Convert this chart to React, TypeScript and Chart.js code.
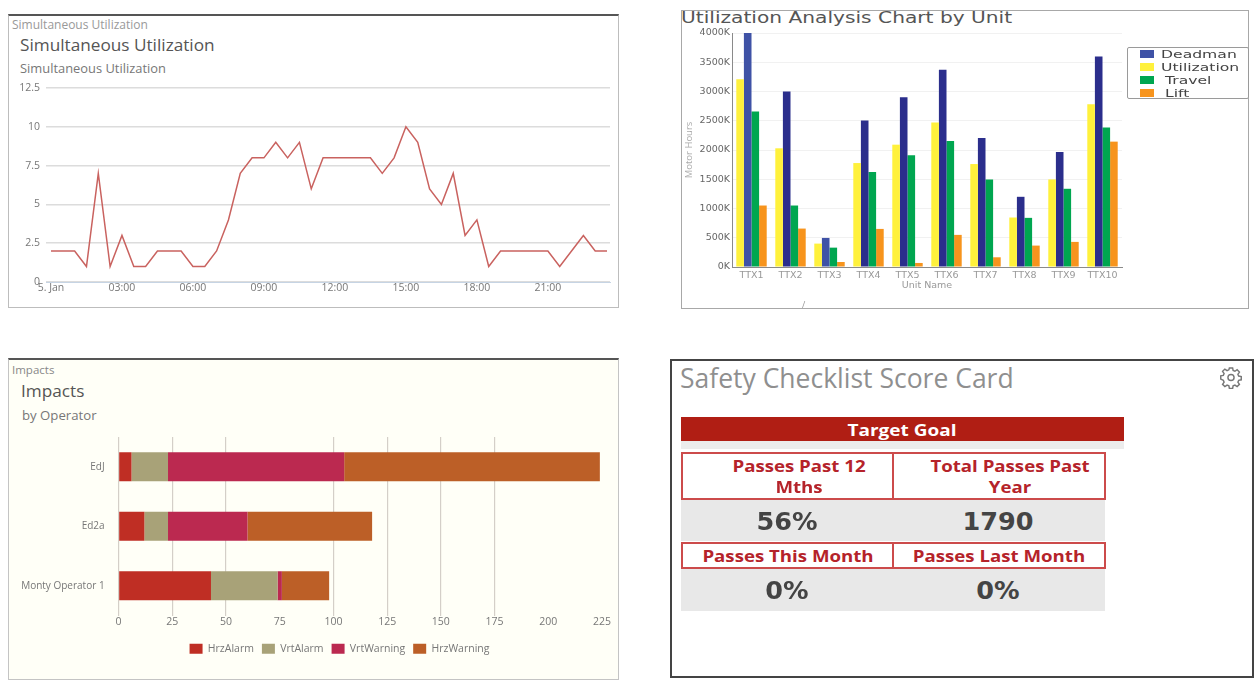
import React, { useEffect, useRef } from "react";
import { Chart, registerables } from "chart.js";

Chart.register(...registerables);

const hours = ["5. Jan","00:30","01:00","01:30","02:00","02:30","03:00","03:30","04:00","04:30","05:00","05:30","06:00","06:30","07:00","07:30","08:00","08:30","09:00","09:30","10:00","10:30","11:00","11:30","12:00","12:30","13:00","13:30","14:00","14:30","15:00","15:30","16:00","16:30","17:00","17:30","18:00","18:30","19:00","19:30","20:00","20:30","21:00","21:30","22:00","22:30","23:00","23:30"];
const simultaneous = [2,2,2,1,7,1,3,1,1,2,2,2,1,1,2,4,7,8,8,9,8,9,6,8,8,8,8,8,7,8,10,9,6,5,7,3,4,1,2,2,2,2,2,1,2,3,2,2];

const units = ["TTX1","TTX2","TTX3","TTX4","TTX5","TTX6","TTX7","TTX8","TTX9","TTX10"];
const utilization = [3211,2029,400,1777,2091,2469,1760,846,1497,2783];
const deadman = [4000,3000,497,2503,2903,3371,2206,1200,1966,3600];
const travel = [2657,1051,331,1623,1909,2154,1497,840,1337,2383];
const lift = [1051,657,86,651,69,549,166,366,429,2143];
const deadmanColors = ["#3f52a6","#2b2e8c","#3f52a6","#2b2e8c","#2b2e8c","#2b2e8c","#2b2e8c","#2b2e8c","#2b2e8c","#2b2e8c"];
const unitLegend = [
  { name: "Deadman", color: "#3f52a6" },
  { name: "Utilization", color: "#fff13c" },
  { name: "Travel", color: "#00a650" },
  { name: "Lift", color: "#f7941d" },
];

const operators = ["EdJ","Ed2a","Monty Operator 1"];
const hrzAlarm = [6,12,43];
const vrtAlarm = [17,11,31];
const vrtWarning = [82,37,2];
const hrzWarning = [119,58,22];

const scoreHeadersTop = ["Passes Past 12 Mths","Total Passes Past Year"];
const scoreValuesTop = ["56%","1790"];
const scoreHeadersBottom = ["Passes This Month","Passes Last Month"];
const scoreValuesBottom = ["0%","0%"];

const SANS = "'Open Sans', sans-serif";

function Box(p: any) {
  const { x, y, w, h, style, children } = p;
  return <div style={{ position: "absolute", left: x, top: y, width: w, height: h, boxSizing: "border-box", ...style }}>{children}</div>;
}

function Label(p: any) {
  const { x, y, size, color, text, font, weight, center, sx } = p;
  return (
    <div style={{
      position: "absolute", left: x, top: y, whiteSpace: "nowrap", lineHeight: 1,
      fontFamily: font || SANS, fontSize: size, color, fontWeight: weight || 400,
      transform: `translate(${center ? "-50%" : "0"},-50%) scaleX(${sx || 1})`,
      transformOrigin: center ? "center" : "left center",
    }}>{text}</div>
  );
}

function useChart(make: (c: HTMLCanvasElement) => Chart) {
  const ref = useRef<HTMLCanvasElement | null>(null);
  useEffect(() => {
    const c = make(ref.current as HTMLCanvasElement);
    return () => c.destroy();
  }, []);
  return ref;
}

function canvasStyle(x: number, y: number, w: number, h: number): React.CSSProperties {
  return { position: "absolute", left: x, top: y, width: w, height: h };
}

function LineCard() {
  const ref = useChart((c) => new Chart(c, {
    type: "line",
    data: {
      datasets: [{
        label: "Simultaneous Utilization",
        data: simultaneous.map((v, i) => ({ x: i, y: v })),
        borderColor: "#c9625f",
        borderWidth: 1.5,
        pointRadius: 0,
        tension: 0,
      }],
    },
    options: {
      responsive: false, animation: false,
      layout: { autoPadding: false, padding: { top: 74, left: 0, right: 9, bottom: 0 } },
      plugins: { legend: { display: false }, title: { display: false }, tooltip: { enabled: false } },
      scales: {
        x: {
          type: "linear", min: -0.42, max: 47.25,
          afterBuildTicks: (s: any) => { s.ticks = [0,6,12,18,24,30,36,42].map((value) => ({ value })); },
          afterFit: (s: any) => { s.height = 26; },
          grid: { display: false, drawTicks: false },
          border: { color: "#c6d4e4", width: 1 },
          ticks: { padding: 0, maxRotation: 0, autoSkip: false, color: "#777", font: { family: SANS, size: 10.5 },
            callback: (v: any) => hours[v] },
        },
        y: {
          min: 0, max: 12.5,
          afterFit: (s: any) => { s.width = 38; },
          border: { display: false },
          grid: { color: "#dcdcdc", lineWidth: 1.5, drawTicks: false },
          ticks: { stepSize: 2.5, padding: 6, color: "#777", font: { family: SANS, size: 10.5 } },
        },
      },
    },
  } as any));
  return (
    <>
      <Box x={8} y={14} w={611} h={294} style={{ background: "#fff", border: "1px solid #bdbdbd", borderTop: "2px solid #555" }} />
      <Label x={12} y={25} size={12} color="#999" text="Simultaneous Utilization" />
      <Label x={20} y={45} size={17.2} color="#555" text="Simultaneous Utilization" />
      <Label x={20} y={68} size={12.9} color="#777" text="Simultaneous Utilization" />
      <canvas ref={ref} width={611} height={294} style={canvasStyle(8, 14, 611, 294)} />
    </>
  );
}

function UnitCard() {
  const ref = useChart((c) => new Chart(c, {
    type: "bar",
    data: {
      labels: units,
      datasets: [
        { label: "Utilization", data: utilization, backgroundColor: "#fff13c" },
        { label: "Deadman", data: deadman, backgroundColor: deadmanColors },
        { label: "Travel", data: travel, backgroundColor: "#00a650" },
        { label: "Lift", data: lift, backgroundColor: "#f7941d" },
      ],
    },
    options: {
      responsive: false, animation: false,
      layout: { autoPadding: false, padding: { top: 23, left: 3, right: 127, bottom: 18 } },
      plugins: { legend: { display: false }, tooltip: { enabled: false } },
      datasets: { bar: { categoryPercentage: 0.78, barPercentage: 1 } },
      scales: {
        x: {
          afterFit: (s: any) => { s.height = 24; },
          grid: { display: false, drawTicks: false },
          border: { color: "#8a8a8a", width: 1 },
          title: { display: true, text: "Unit Name", color: "#999", padding: { top: 0, bottom: 0 }, font: { family: "'DejaVu Sans'", size: 9.5 } },
          ticks: { padding: 3, maxRotation: 0, autoSkip: false, color: "#999", font: { family: "'DejaVu Sans'", size: 9.5 } },
        },
        y: {
          min: 0, max: 4000,
          afterFit: (s: any) => { s.width = 48; },
          border: { color: "#8a8a8a", width: 1 },
          grid: { color: "#f1f1f1", drawTicks: false },
          title: { display: true, text: "Motor Hours", color: "#aaa", padding: 0, font: { family: SANS, size: 9.5 } },
          ticks: { stepSize: 500, padding: 2, color: "#666", font: { family: "'DejaVu Sans'", size: 9.5 },
            callback: (v: any) => `${v}K` },
        },
      },
    },
  } as any));
  return (
    <>
      <Box x={681} y={10} w={568} h={299} style={{ background: "#fff", border: "1px solid #a8a8a8" }} />
      <Label x={681} y={18} size={15} color="#555" text="Utilization Analysis Chart by Unit" font="'DejaVu Sans'" sx={1.345} />
      <canvas ref={ref} width={568} height={299} style={canvasStyle(681, 10, 568, 299)} />
      <Box x={1127} y={47} w={122} h={52} style={{ background: "#fff", border: "1px solid #9a9a9a", borderRadius: 2 }} />
      {unitLegend.map((e, i) => (
        <React.Fragment key={e.name}>
          <Box x={1140} y={50 + i * 13} w={14} h={8} style={{ background: e.color }} />
          <Label x={i < 2 ? 1161 : 1165} y={54 + i * 13} size={11} color="#444" text={e.name} font="'DejaVu Sans'" sx={1.42} />
        </React.Fragment>
      ))}
      <Label x={802} y={304} size={9} color="#999" text="/" />
    </>
  );
}

const shiftLegend = {
  id: "shiftLegend",
  afterLayout(chart: any) {
    const l = chart.legend;
    if (l) { l.left += 30.5; l.right += 30.5; }
  },
};

function ImpactsCard() {
  const hidden = [75, 200, 225];
  const ref = useChart((c) => new Chart(c, {
    type: "bar",
    plugins: [shiftLegend],
    data: {
      labels: operators,
      datasets: [
        { label: "HrzAlarm", data: hrzAlarm, backgroundColor: "#bf2e24" },
        { label: "VrtAlarm", data: vrtAlarm, backgroundColor: "#a8a278" },
        { label: "VrtWarning", data: vrtWarning, backgroundColor: "#bb2950" },
        { label: "HrzWarning", data: hrzWarning, backgroundColor: "#bc5f27" },
      ],
    },
    options: {
      indexAxis: "y",
      responsive: false, animation: false,
      layout: { autoPadding: false, padding: { top: 79, left: 8, right: 16, bottom: 15 } },
      plugins: {
        tooltip: { enabled: false },
        legend: {
          position: "bottom",
          labels: { boxWidth: 13, boxHeight: 10, padding: 8, color: "#777", font: { family: SANS, size: 10.5 } },
        },
      },
      datasets: { bar: { categoryPercentage: 0.49, barPercentage: 1 } },
      scales: {
        x: {
          stacked: true, min: 0, max: 225,
          afterFit: (s: any) => { s.height = 20; },
          border: { display: false },
          grid: { drawTicks: false, lineWidth: 1.2,
            color: (ctx: any) => hidden.includes(ctx.tick?.value) ? "rgba(0,0,0,0)" : "#d4cfc8" },
          ticks: { stepSize: 25, padding: 0, maxRotation: 0, autoSkip: false, color: "#777", font: { family: SANS, size: 10.5 } },
        },
        y: {
          stacked: true,
          afterFit: (s: any) => { s.width = 102.6; },
          border: { color: "#d4cfc8" },
          grid: { display: false },
          ticks: { padding: 6, autoSkip: false, color: "#777", font: { family: SANS, size: 10 } },
        },
      },
    },
  } as any));
  return (
    <>
      <Box x={8} y={358} w={611} h={322} style={{ background: "#fffff7", border: "1px solid #c4c4c4", borderTop: "2px solid #555" }} />
      <Label x={12} y={370} size={11.5} color="#888" text="Impacts" />
      <Label x={21} y={391} size={17.2} color="#555" text="Impacts" />
      <Label x={22} y={416} size={13.2} color="#777" text="by Operator" />
      <canvas ref={ref} width={610} height={321} style={canvasStyle(8, 358, 610, 321)} />
    </>
  );
}

function Gear() {
  return (
    <svg style={{ position: "absolute", left: 1219, top: 366 }} width={24} height={23} viewBox="0 0 24 24" fill="none" stroke="#777" strokeWidth={1.5}>
      <circle cx="12" cy="12" r="3.2" />
      <path d="M10.3 2h3.4l.5 2.7 1.9.8 2.3-1.6 2.4 2.4-1.6 2.3.8 1.9 2.7.5v3.4l-2.7.5-.8 1.9 1.6 2.3-2.4 2.4-2.3-1.6-1.9.8-.5 2.7h-3.4l-.5-2.7-1.9-.8-2.3 1.6-2.4-2.4 1.6-2.3-.8-1.9L1.3 13.7v-3.4l2.7-.5.8-1.9-1.6-2.3 2.4-2.4 2.3 1.6 1.9-.8z" />
    </svg>
  );
}

function ScoreCard() {
  const RED = "#b5232a";
  const cell = { border: "2px solid #cc4b4b", background: "#fff" };
  const hdr = { font: SANS, size: 16.5, color: RED, weight: 700, center: true, sx: 1.13 };
  const val = { font: "'DejaVu Sans', sans-serif", size: 25.5, color: "#444", weight: 700, center: true };
  const splitTop = (s: string) => s === scoreHeadersTop[0] ? ["Passes Past 12", "Mths"] : ["Total Passes Past", "Year"];
  return (
    <>
      <Box x={670} y={359} w={584} h={319} style={{ background: "#fff", border: "2px solid #444" }} />
      <Label x={680} y={378} size={26.5} color="#8f8f8f" text="Safety Checklist Score Card" font={SANS} />
      <Gear />
      <Box x={681} y={417} w={443} h={24} style={{ background: "#b01e14" }} />
      <Box x={681} y={441} w={443} h={8} style={{ background: "#ececec" }} />
      <Label x={902} y={430} size={16.5} color="#fff" weight={700} center sx={1.15} text="Target Goal" font={SANS} />

      <Box x={681} y={452} w={213} h={48} style={cell} />
      <Box x={892} y={452} w={214} h={48} style={cell} />
      {scoreHeadersTop.map((h, i) => splitTop(h).map((t, j) => (
        <Label key={t} {...hdr} x={i ? 1010 : 799} y={466 + j * 21} text={t} />
      )))}
      <Box x={681} y={500} w={424} h={41} style={{ background: "#e8e8e8" }} />
      {scoreValuesTop.map((t, i) => <Label key={t} {...val} x={i ? 998 : 787} y={522} text={t} />)}

      <Box x={681} y={542} w={213} h={27} style={cell} />
      <Box x={892} y={542} w={214} h={27} style={cell} />
      {scoreHeadersBottom.map((t, i) => <Label key={t} {...hdr} x={i ? 999 : 788} y={556} text={t} />)}
      <Box x={681} y={569} w={424} h={42} style={{ background: "#e8e8e8" }} />
      {scoreValuesBottom.map((t, i) => <Label key={i} {...val} x={i ? 998 : 787} y={591} text={t} />)}
    </>
  );
}

export default function App() {
  return (
    <div style={{ position: "fixed", left: 0, top: 0, width: 1256, height: 691, background: "#fff", overflow: "hidden", filter: "blur(0.6px)" }}>
      <LineCard />
      <UnitCard />
      <ImpactsCard />
      <ScoreCard />
    </div>
  );
}
